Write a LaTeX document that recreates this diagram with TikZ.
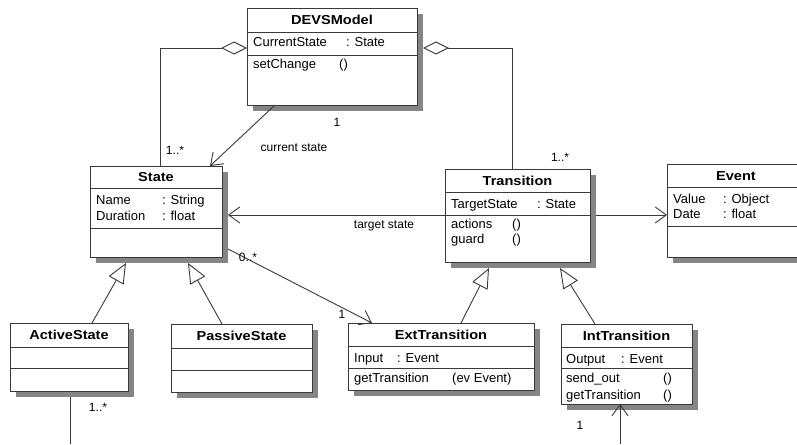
\documentclass[tikz,border=0pt]{standalone}
\usepackage{fontspec}
\setmainfont{Liberation Sans}
\newfontfamily\titlefont[FakeStretch=1.12]{Liberation Sans}
\usetikzlibrary{arrows.meta}

\definecolor{linegray}{HTML}{3A3A3A}
\definecolor{shadowgray}{HTML}{858585}

\tikzset{
  shadowfill/.style={fill=shadowgray, draw=none},
  classframe/.style={draw=linegray, line width=0.9pt, fill=white, inner sep=0pt, outer sep=0pt},
  divider/.style={draw=linegray, line width=0.9pt},
  classtitle/.style={inner sep=0pt, font=\titlefont\bfseries\fontsize{13}{16}\selectfont},
  row/.style={anchor=base west, inner sep=0pt, font=\fontsize{13}{16}\selectfont},
  mult/.style={inner sep=0pt, font=\fontsize{12}{14}\selectfont},
  conn/.style={draw=linegray, line width=0.9pt},
  agg/.style={conn, {Diamond[open, length=26pt, width=13pt, line width=0.9pt]}-},
  nav/.style={conn, -{Straight Barb[length=11pt, width=16pt, line width=0.9pt]}},
  inherit/.style={conn, -{Triangle[open, length=20pt, width=17pt, line width=0.9pt]}},
}

% class box: name, x1, y1, x2, y2, header line, attribute line, title
\newcommand\classbox[8]{%
  \fill[shadowfill] (#2+6,#3+6) rectangle (#4+6,#5+6);
  \node[classframe, minimum width={#4-#2}, minimum height={#5-#3}] (#1) at ({(#2+#4)/2},{(#3+#5)/2}) {};
  \draw[divider] (#2,#6) -- (#4,#6) (#2,#7) -- (#4,#7);
  \node[classtitle, anchor=base] (#1-title) at ({(#2+#4)/2},{(#3+#6)/2+4.8}) {#8};
}
% one compartment row: name, x, baseline, label width, label, value
\newcommand\crow[6]{%
  \node[row] (#1) at (#2,#3) {\makebox[#4pt][l]{#5}#6};
}

\begin{document}
\begin{tikzpicture}[x=1pt, y=-1pt]
\useasboundingbox[fill=white] (0,0) rectangle (797,444);

% classes
\classbox{devs}{247}{8}{417}{105}{32}{55}{DEVSModel}
\crow{devs-a1}{253}{47}{93}{CurrentState}{: State}
\crow{devs-m1}{253}{68}{86}{setChange}{()}

\classbox{state}{90}{166}{222}{257}{188}{228}{State}
\crow{state-a1}{96}{204}{66}{Name}{: String}
\crow{state-a2}{96}{220}{66}{Duration}{: float}

\classbox{trans}{445}{169}{590}{262}{192}{215}{Transition}
\crow{trans-a1}{451}{208}{86}{TargetState}{: State}
\crow{trans-m1}{451}{228}{61}{actions}{()}
\crow{trans-m2}{451}{243}{61}{guard}{()}

\classbox{event}{667}{164}{805}{257}{187}{226}{Event}
\crow{event-a1}{673}{203}{50}{Value}{: Object}
\crow{event-a2}{673}{218}{50}{Date}{: float}

\classbox{active}{10}{323}{128}{391}{347}{368}{ActiveState}
\classbox{passive}{171}{324}{312}{392}{348}{370}{PassiveState}

\classbox{ext}{348}{323}{534}{390}{346}{368}{ExtTransition}
\crow{ext-a1}{354}{362}{43}{Input}{: Event}
\crow{ext-m1}{354}{382}{98}{getTransition}{(ev Event)}

\classbox{int}{561}{324}{692}{404}{347}{368}{IntTransition}
\crow{int-a1}{566}{363}{55}{Output}{: Event}
\crow{int-m1}{566}{382}{97}{send\_out}{()}
\crow{int-m2}{566}{399}{97}{getTransition}{()}

% aggregations of the model
\draw[agg] (devs.west |- 0,48) -| (state.north -| 160,0);
\draw[agg] ([xshift=6pt]devs.east |- 0,48) -| (trans.north -| 512,0);
\node[mult] (m-agg1) at (175,150) {1..*};
\node[mult] (m-agg2) at (560,157) {1..*};

% current state
\draw[nav] (devs.south -| 275,0) -- (state.north -| 210,0);
\node[mult] (m-cur1) at (337,122) {1};
\node[mult, anchor=base] (l-cur) at (294,151) {current state};

% target state
\draw[nav] (trans.west |- 0,215) -- ([xshift=6pt]state.east |- 0,215);
\node[mult, anchor=base] (l-target) at (384,228) {target state};

% transition to event
\draw[nav] ([xshift=6pt]trans.east |- 0,215) -- (event.west |- 0,215);

% state to external transition
\draw[nav] ([xshift=6pt]state.south east |- 0,249) -- (ext.north -| 372,0);
\node[mult] (m-ext1) at (248,257) {0..*};
\node[mult] (m-ext2) at (342,314) {1};

% generalizations
\draw[inherit] (active.north -| 92,0) -- ([yshift=-6pt]state.south -| 126,0);
\draw[inherit] (passive.north -| 222,0) -- ([yshift=-6pt]state.south -| 188,0);
\draw[inherit] (ext.north -| 461,0) -- ([yshift=-6pt]trans.south -| 489,0);
\draw[inherit] (int.north -| 595,0) -- ([yshift=-6pt]trans.south -| 560,0);

% links leaving the page
\coordinate (activeLink) at (70,444);
\draw[conn] ([yshift=-6pt]active.south -| 70,0) -- (activeLink);
\node[mult] (m-act) at (98,407) {1..*};

\coordinate (intLink) at (620,444);
\draw[nav] (intLink) -- (int.south -| 620,0);
\node[mult] (m-int) at (580,425) {1};

\end{tikzpicture}
\end{document}
